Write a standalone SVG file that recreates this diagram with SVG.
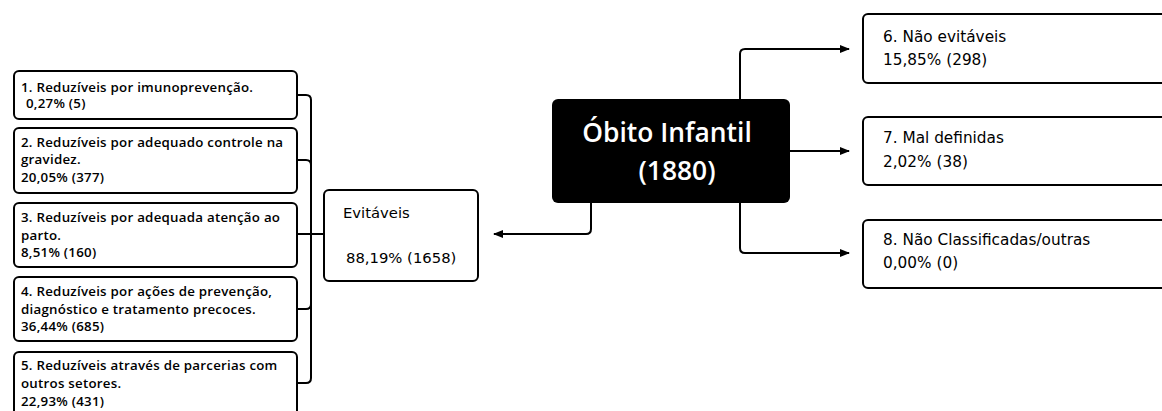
<svg xmlns="http://www.w3.org/2000/svg" width="1162" height="411" viewBox="0 0 1162 411">
<defs>
<marker id="arr" markerWidth="10" markerHeight="10" refX="9" refY="5" orient="auto" markerUnits="userSpaceOnUse">
<path d="M0,1 L10,5 L0,9 Z" fill="#000"/>
</marker>
<style>
.box{fill:#fff;stroke:#000;stroke-width:2}
.con{fill:none;stroke:#000;stroke-width:2}
.sm{font-family:"Open Sans","Noto Sans",sans-serif;font-size:13.3px;font-weight:600;letter-spacing:0.25px;fill:#000}
.md{font-family:"DejaVu Sans","Noto Sans",sans-serif;font-size:15.3px;font-weight:400;fill:#000}
.ev{font-family:"DejaVu Sans","Noto Sans",sans-serif;font-size:14.8px;font-weight:400;fill:#000}
.big{font-family:"Open Sans","Noto Sans",sans-serif;font-size:26.4px;font-weight:600;fill:#fff}
</style>
</defs>
<rect width="1162" height="411" fill="#fff"/>
<g id="connectors">
<path class="con" d="M297,95 H306 Q311,95 311,100 V378 Q311,383 306,383 H297"/>
<path class="con" d="M297,160 H306 Q311,160 311,165"/>
<path class="con" d="M297,309 H306 Q311,309 311,304"/>
<path class="con" d="M297,234 H324"/>
<path class="con" d="M591,203 V229 Q591,234 586,234 H494" marker-end="url(#arr)"/>
<path class="con" d="M740,99 V54 Q740,49 745,49 H849" marker-end="url(#arr)"/>
<path class="con" d="M790,151 H849" marker-end="url(#arr)"/>
<path class="con" d="M740,203 V248 Q740,253 745,253 H849" marker-end="url(#arr)"/>
</g>
<g id="root">
<rect x="552" y="99" width="238" height="104" rx="6" fill="#000"/>
<text class="big" x="667" y="142" text-anchor="middle">Óbito Infantil</text>
<text class="big" x="677" y="180" text-anchor="middle">(1880)</text>
</g>
<g id="evitaveis">
<rect class="box" x="324" y="190" width="154" height="91" rx="5"/>
<text class="ev" x="343" y="218">Evitáveis</text>
<text class="ev" x="346" y="263">88,19% (1658)</text>
</g>
<g id="n1">
<rect class="box" x="14" y="71" width="283" height="48" rx="5"/>
<text class="sm" x="21" y="92">1. Reduzíveis por imunoprevenção.</text>
<text class="sm" x="26" y="108">0,27% (5)</text>
</g>
<g id="n2">
<rect class="box" x="14" y="128" width="283" height="65" rx="5"/>
<text class="sm" x="21" y="147">2. Reduzíveis por adequado controle na</text>
<text class="sm" x="21" y="164">gravidez.</text>
<text class="sm" x="21" y="182">20,05% (377)</text>
</g>
<g id="n3">
<rect class="box" x="14" y="203" width="283" height="64" rx="5"/>
<text class="sm" x="21" y="222">3. Reduzíveis por adequada atenção ao</text>
<text class="sm" x="21" y="240">parto.</text>
<text class="sm" x="21" y="257">8,51% (160)</text>
</g>
<g id="n4">
<rect class="box" x="14" y="277" width="283" height="64" rx="5"/>
<text class="sm" x="21" y="296">4. Reduzíveis por ações de prevenção,</text>
<text class="sm" x="21" y="314">diagnóstico e tratamento precoces.</text>
<text class="sm" x="21" y="331">36,44% (685)</text>
</g>
<g id="n5">
<rect class="box" x="14" y="352" width="283" height="64" rx="5"/>
<text class="sm" x="21" y="370">5. Reduzíveis através de parcerias com</text>
<text class="sm" x="21" y="388">outros setores.</text>
<text class="sm" x="21" y="406">22,93% (431)</text>
</g>
<g id="n6">
<rect class="box" x="863" y="14" width="320" height="69" rx="5"/>
<text class="md" x="883" y="42">6. Não evitáveis</text>
<text class="md" x="883" y="65">15,85% (298)</text>
</g>
<g id="n7">
<rect class="box" x="863" y="117" width="320" height="68" rx="5"/>
<text class="md" x="883" y="143">7. Mal definidas</text>
<text class="md" x="883" y="167">2,02% (38)</text>
</g>
<g id="n8">
<rect class="box" x="863" y="220" width="320" height="68" rx="5"/>
<text class="md" x="883" y="245">8. Não Classificadas/outras</text>
<text class="md" x="883" y="268">0,00% (0)</text>
</g>
</svg>
